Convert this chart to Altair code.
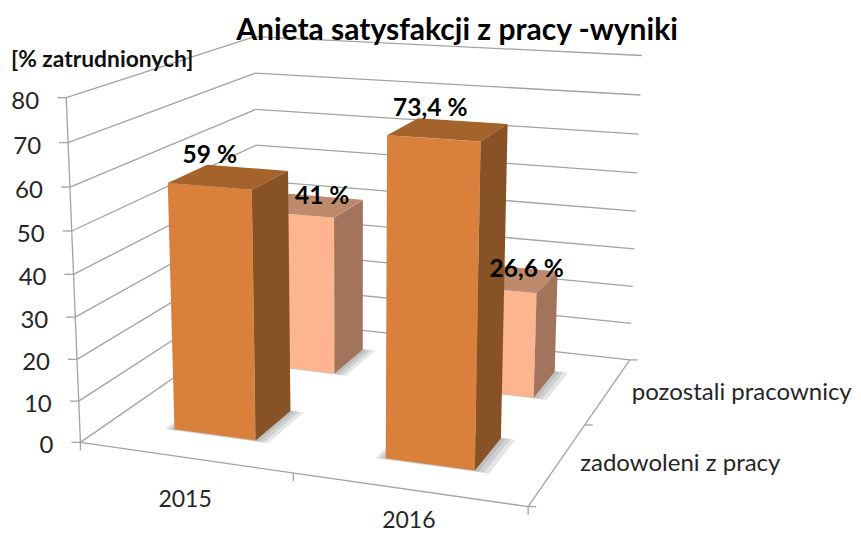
import numpy as np
import pandas as pd
import altair as alt

# ---- chart values ----
title = "Anieta satysfakcji z pracy -wyniki"
y_title = "[% zatrudnionych]"
categories = ["2015", "2016"]
series = ["zadowoleni z pracy", "pozostali pracownicy"]
values_satisfied = [59, 73.4]
values_others = [41, 26.6]
labels_satisfied = ["59 %", "73,4 %"]
labels_others = ["41 %", "26,6 %"]
y_ticks = [0, 10, 20, 30, 40, 50, 60, 70, 80]
Z_MAX = 80

# ---- 3D box camera: box corners/axis positions seen on the page (u, v, z -> page px) ----
camera = [(0,0,0,81,444),(1,0,0,526,505),(1,1,0,630,360),(0,1,0,258,316),
 (0,0,10,79,402),(0,0,20,77,360),(0,0,30,75,318),(0,0,40,74,274),(0,0,50,72,230),
 (0,0,60,70,187),(0,0,70,68,142),(0,0,80,66,97),
 (1,1,10,631,324),(1,1,20,633,287),(1,1,30,634,249),(1,1,40,636,211),(1,1,50,637,173),
 (1,1,60,639,134),(1,1,70,640,95),(1,1,80,642,55),
 (0,1,80,255,37),(0,1,70,255,73),(0,1,60,256,110),(0,1,50,256,146),(0.5,0,0,293,473),(1,0.5,0,587,425)]
A, b = [], []
for u, v, z, px, py in camera:
    z = z / Z_MAX
    A.append([u,v,z,1,0,0,0,0,-px*u,-px*v,-px*z]); b.append(px)
    A.append([0,0,0,0,u,v,z,1,-py*u,-py*v,-py*z]); b.append(py)
P = np.append(np.linalg.lstsq(np.array(A,float), np.array(b,float), rcond=None)[0], 1).reshape(3,4)

def pr(u, v, z):
    w = P @ np.array([u, v, z / Z_MAX, 1.0])
    return float(w[0] / w[2]), float(w[1] / w[2])

# ---- polygon -> area rows (x, upper y, lower y) ----
def poly_rows(pts, face, color):
    xs = sorted({round(p[0], 3) for p in pts})
    n = len(pts)
    rows = []
    for x in xs:
        ys = []
        for i in range(n):
            (x0, y0), (x1, y1) = pts[i], pts[(i + 1) % n]
            lo, hi = min(x0, x1), max(x0, x1)
            if lo - 1e-3 <= x <= hi + 1e-3:
                if abs(x1 - x0) < 1e-6:
                    ys += [y0, y1]
                else:
                    ys.append(y0 + (y1 - y0) * (x - x0) / (x1 - x0))
        rows.append(dict(x=x, ya=min(ys), yb=max(ys), face=face, fc=color))
    return rows

U_CENTER = [0.254, 0.75]
V_CENTER = [0.25, 0.742]
HALF_U = 0.098
HALF_V = 0.102
front_col = ["#D9803C", "#FDB58F"]
side_col = ["#875225", "#A2745B"]
top_col = ["#A5632C", "#BE8A6D"]

def bar_rows(i, j, val):
    u0, u1 = U_CENTER[i] - HALF_U, U_CENTER[i] + HALF_U
    v0, v1 = V_CENTER[j] - HALF_V, V_CENTER[j] + HALF_V
    k = f"{i}{j}"
    rows = []
    rows += poly_rows([pr(u0,v0,0), pr(u1,v0,0), pr(u1,v0,val), pr(u0,v0,val)], k+"f", front_col[j])
    rows += poly_rows([pr(u1,v0,0), pr(u1,v1,0), pr(u1,v1,val), pr(u1,v0,val)], k+"s", side_col[j])
    rows += poly_rows([pr(u0,v0,val), pr(u1,v0,val), pr(u1,v1,val), pr(u0,v1,val)], k+"t", top_col[j])
    return rows

def shadow_rows(i, j):
    u0, u1 = U_CENTER[i] - HALF_U, U_CENTER[i] + HALF_U
    v0, v1 = V_CENTER[j] - HALF_V, V_CENTER[j] + HALF_V
    rows = []
    for n, g in enumerate([1.0, 0.65, 0.3]):
        rows += poly_rows([pr(u0-0.02*g,v0-0.007*g,0), pr(u1+0.032*g,v0-0.007*g,0),
                           pr(u1+0.032*g,v1+0.003*g,0), pr(u0-0.02*g,v1+0.003*g,0)],
                          f"sh{i}{j}{n}", "#7F7F7F")
    return rows

all_vals = [values_satisfied, values_others]
back_bars = pd.DataFrame([r for i in range(2) for r in bar_rows(i, 1, all_vals[1][i])])
front_bars = pd.DataFrame([r for i in range(2) for r in bar_rows(i, 0, all_vals[0][i])])
back_sh = pd.DataFrame([r for i in range(2) for r in shadow_rows(i, 1)])
front_sh = pd.DataFrame([r for i in range(2) for r in shadow_rows(i, 0)])

# ---- wall grid, axes, ticks ----
segs = []
def seg(a, c):
    segs.append(dict(x=a[0], y=a[1], xe=c[0], ye=c[1]))
for t in y_ticks:
    seg(pr(0,0,t), pr(0,1,t))
    seg(pr(0,1,t), pr(1,1,t))
    l = pr(0,0,t)
    seg((l[0]-9, l[1]), l)
seg(pr(0,0,0), pr(0,0,Z_MAX))
seg(pr(0,0,0), pr(1,0,0))
seg(pr(1,0,0), pr(1,1,0))
for u in [0, 0.5, 1]:
    p = pr(u,0,0); seg(p, (p[0], p[1]+8))
for v in [0, 0.5, 1]:
    p = pr(1,v,0); seg(p, (p[0]+8, p[1]))
seg_df = pd.DataFrame(segs)

sx = alt.Scale(domain=[8, 853], range=[0, 845], nice=False, zero=False)
sy = alt.Scale(domain=[8, 533], range=[0, 525], nice=False, zero=False)
X = alt.X("x:Q", scale=sx, axis=None)
Y = alt.Y("y:Q", scale=sy, axis=None)

def area(df, opacity=1.0):
    return alt.Chart(df).mark_area(interpolate="linear", opacity=opacity, clip=False).encode(
        x=X,
        y=alt.Y("ya:Q", scale=sy, axis=None, stack=None),
        y2="yb:Q",
        detail="face:N",
        fill=alt.Fill("fc:N", scale=None),
    )

def text(rows, font="Lato", **kw):
    return alt.Chart(pd.DataFrame(rows)).mark_text(font=font, baseline="middle", **kw).encode(
        x=X, y=Y, text="t:N")

rules = alt.Chart(seg_df).mark_rule(color="#A3A3A3", strokeWidth=1.3).encode(x=X, y=Y, x2="xe:Q", y2="ye:Q")

tick_txt = [dict(x=pr(0,0,t)[0]-27, y=pr(0,0,t)[1]+4, t=str(t)) for t in y_ticks]
cat_off = [(-1, 42), (1, 32)]
cat_txt = [dict(x=pr(U_CENTER[i],0,0)[0]+cat_off[i][0], y=pr(U_CENTER[i],0,0)[1]+cat_off[i][1], t=c) for i, c in enumerate(categories)]
ser_off = [(22, 1), (24, 1)]
ser_txt = [dict(x=pr(1,V_CENTER[j],0)[0]+ser_off[j][0], y=pr(1,V_CENTER[j],0)[1]+ser_off[j][1], t=s) for j, s in enumerate(series)]

def lab(i, j, s, off):
    p = pr(U_CENTER[i], V_CENTER[j], all_vals[j][i])
    return dict(x=p[0]+off[0], y=p[1]+off[1], t=s)
val_txt = [lab(0, 0, labels_satisfied[0], (-19, -20.5)), lab(1, 0, labels_satisfied[1], (-18, -20.5)),
           lab(0, 1, labels_others[0], (11, -8.5)), lab(1, 1, labels_others[1], (20, -8.5))]

chart = alt.layer(
    rules,
    area(back_sh, 0.2), area(back_bars),
    area(front_sh, 0.2), area(front_bars),
    text(tick_txt, fontSize=24, align="right", color="#262626"),
    text(cat_txt, fontSize=23, align="center", color="#262626"),
    text(ser_txt, fontSize=24, align="left", color="#262626"),
    text(val_txt, fontSize=24.5, fontWeight="bold", align="center", color="#000000"),
    text([dict(x=457, y=31, t=title)], fontSize=30, fontWeight="bold", align="center", color="#000000"),
    text([dict(x=11, y=60, t=y_title)], fontSize=22.8, fontWeight="bold", align="left", color="#111111"),
).properties(width=845, height=525, padding=0, background="white",
             autosize=alt.AutoSizeParams(type="none")).configure_view(strokeWidth=0)

chart.save("out.html", embed_options={"renderer": "svg", "actions": False})
